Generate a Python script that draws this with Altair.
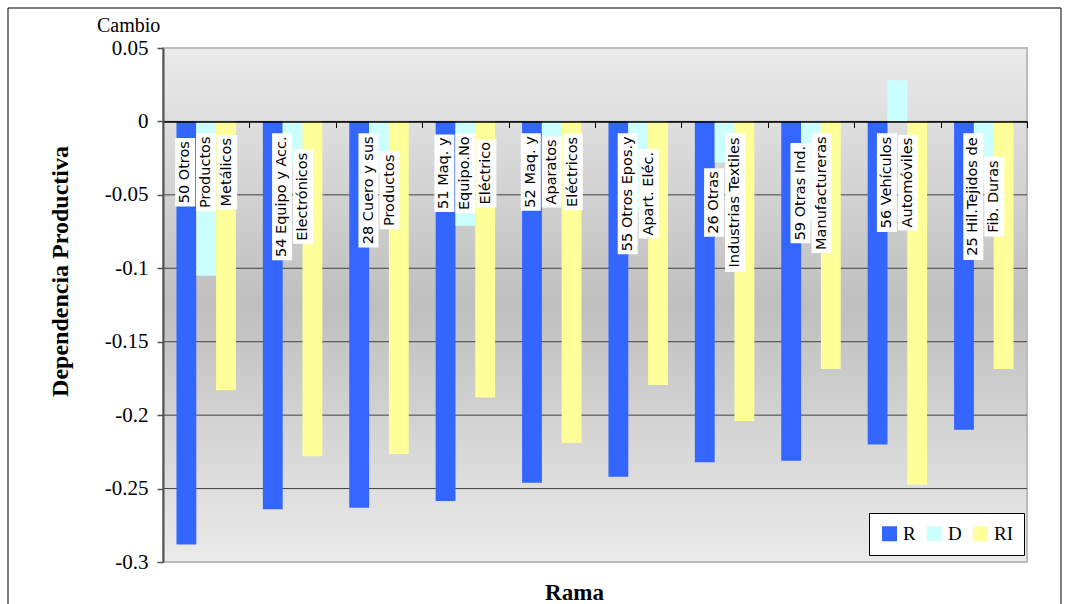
import unicodedata

import altair as alt
import pandas as pd

# ---- datos -------------------------------------------------------------
codigos = ["50", "54", "28", "51", "52", "55", "26", "59", "56", "25"]
etiquetas = [
    ["50 Otros", "Productos", "Metálicos"],
    ["54 Equipo y Acc.", "Electrónicos"],
    ["28 Cuero y sus", "Productos"],
    ["51 Maq. y", "Equipo.No", "Eléctrico"],
    ["52 Maq. y", "Aparatos", "Eléctricos"],
    ["55 Otros Epos.y", "Apart. Eléc."],
    ["26 Otras", "Industrias Textiles"],
    ["59 Otras Ind.", "Manufactureras"],
    ["56 Vehículos", "Automóviles"],
    ["25 Hil.Tejidos de", "Fib. Duras"],
]
series = ["R", "D", "RI"]
valores_R = [-0.288, -0.264, -0.263, -0.2585, -0.246, -0.242, -0.232, -0.231, -0.220, -0.210]
valores_D = [-0.105, -0.030, -0.035, -0.071, -0.030, -0.062, -0.028, -0.069, 0.028, -0.043]
valores_RI = [-0.183, -0.228, -0.2265, -0.188, -0.219, -0.1795, -0.204, -0.1686, -0.2474, -0.1686]
colores = ["#3366ff", "#ccffff", "#ffff99"]
marcas_y = [0.05, 0, -0.05, -0.1, -0.15, -0.2, -0.25, -0.3]

# ---- geometría ---------------------------------------------------------
ANCHO, ALTO = 864, 514
Y_MIN, Y_MAX = -0.3, 0.05
PX_POR_UNIDAD = ALTO / (Y_MAX - Y_MIN)
PASO = ANCHO / len(codigos)

SERIF = "Liberation Serif"
FUENTE_ETIQ = "DejaVu Sans"
TAM_ETIQ = 14.5
INTERLINEA = 21
BORDE_ETIQ = -0.008      # extremo superior de la caja más larga

# anchos de avance aproximados de DejaVu Sans (fracción del em)
ANCHOS = {
    " ": 0.318, ".": 0.318, "A": 0.684, "C": 0.698, "D": 0.770, "E": 0.632,
    "F": 0.575, "H": 0.752, "I": 0.295, "M": 0.863, "N": 0.748, "O": 0.787,
    "P": 0.603, "T": 0.611, "V": 0.684, "a": 0.613, "b": 0.635, "c": 0.550,
    "d": 0.635, "e": 0.615, "f": 0.352, "g": 0.635, "h": 0.634, "i": 0.278,
    "j": 0.278, "l": 0.278, "m": 0.974, "n": 0.634, "o": 0.612, "p": 0.635,
    "q": 0.635, "r": 0.411, "s": 0.521, "t": 0.392, "u": 0.634, "v": 0.592,
    "x": 0.592, "y": 0.592,
}


def ancho_texto(texto):
    total = 0.0
    for c in texto:
        base = unicodedata.normalize("NFD", c)[0]
        total += 0.636 if base.isdigit() else ANCHOS.get(base, 0.6)
    return total * TAM_ETIQ


# ---- tablas ------------------------------------------------------------
filas = []
for cod, r, d, ri in zip(codigos, valores_R, valores_D, valores_RI):
    for s, v in zip(series, (r, d, ri)):
        filas.append({"rama": cod, "serie": s, "valor": v})
barras_df = pd.DataFrame(filas)

filas_etiq = []
for i, lineas in enumerate(etiquetas):
    largos = [ancho_texto(t) for t in lineas]
    centro_y = BORDE_ETIQ - (max(largos) / 2 + 3) / PX_POR_UNIDAD
    n = len(lineas)
    for k, (t, largo) in enumerate(zip(lineas, largos)):
        xc = i + 0.5 + (k - (n - 1) / 2) * INTERLINEA / PASO
        media = (largo / 2 + 3) / PX_POR_UNIDAD
        filas_etiq.append({
            "texto": t, "xc": xc,
            "x1": xc - 10 / PASO, "x2": xc + 10 / PASO,
            "yc": centro_y, "y1": centro_y + media, "y2": centro_y - media,
        })
etiq_df = pd.DataFrame(filas_etiq)
rejilla_df = pd.DataFrame({"v": marcas_y[1:-1]})
unidad = pd.DataFrame({"a": [0]})

# ---- escalas y ejes ----------------------------------------------------
escala_y = alt.Scale(domain=[Y_MIN, Y_MAX], nice=False, zero=False)
escala_xq = alt.Scale(domain=[0, len(codigos)], nice=False, zero=False)

eje_y = alt.Axis(
    values=marcas_y,
    labelExpr="replace(format(datum.value, '~g'), '\u2212', '-')",
    labelFont=SERIF, labelFontSize=21, labelColor="black", labelPadding=9,
    tickSize=6, tickColor="#505050", tickWidth=1.5,
    domainColor="#505050", domainWidth=2, grid=False, zindex=1,
    title="Dependencia Productiva", titleFont=SERIF, titleFontSize=24,
    titleFontWeight="bold", titleColor="black", titleAngle=270,
    titleX=-103, titleY=223, titleAlign="center", titleBaseline="middle",
)

# el eje de categorías se dibuja sobre la línea del cero
desplaz_cero = -(0 - Y_MIN) * PX_POR_UNIDAD
pos_eje_x = ALTO + desplaz_cero
eje_x = alt.Axis(
    orient="bottom", offset=desplaz_cero, labels=False,
    tickBand="extent", tickSize=6, tickColor="black", tickWidth=1,
    domainColor="black", domainWidth=1.5, grid=False, zindex=1,
    title="Rama", titleFont=SERIF, titleFontSize=23, titleFontWeight="bold",
    titleColor="black", titleX=411, titleY=(592 - 48) - pos_eje_x,
    titleAlign="center", titleBaseline="middle",
)

# ---- capas -------------------------------------------------------------
fondo = alt.Chart(unidad).mark_rect(
    fill=alt.Gradient(
        gradient="linear", x1=0, x2=0, y1=0, y2=1,
        stops=[
            alt.GradientStop(offset=0, color="#ebebeb"),
            alt.GradientStop(offset=0.5, color="#bfbfbf"),
            alt.GradientStop(offset=1, color="#ebebeb"),
        ],
    ),
    stroke="#bdbdbd", strokeWidth=2,
).encode(x=alt.value(0), x2=alt.value(ANCHO), y=alt.value(0), y2=alt.value(ALTO))

rejilla = alt.Chart(rejilla_df).mark_rule(color="#404040", strokeWidth=1).encode(
    y=alt.Y("v:Q", scale=escala_y, axis=eje_y)
)

barras = alt.Chart(barras_df).mark_bar().encode(
    x=alt.X("rama:N", sort=codigos, scale=alt.Scale(paddingInner=0, paddingOuter=0), axis=eje_x),
    xOffset=alt.XOffset("serie:N", sort=series, scale=alt.Scale(paddingInner=0, paddingOuter=0.68)),
    y=alt.Y("valor:Q", scale=escala_y, axis=eje_y),
    color=alt.Color(
        "serie:N",
        scale=alt.Scale(domain=series, range=colores),
        legend=alt.Legend(
            title=None, orient="none", legendX=706, legendY=465,
            direction="horizontal", fillColor="white", strokeColor="black",
            padding=11, symbolType="square", symbolSize=225, symbolStrokeWidth=0,
            symbolOpacity=1, labelFont=SERIF, labelFontSize=19, labelColor="black",
            labelOffset=4, columnPadding=9,
        ),
    ),
)

cajas = alt.Chart(etiq_df).mark_rect(fill="white").encode(
    x=alt.X("x1:Q", scale=escala_xq, axis=None),
    x2="x2:Q",
    y=alt.Y("y1:Q", scale=escala_y, axis=eje_y),
    y2="y2:Q",
)

textos = alt.Chart(etiq_df).mark_text(
    angle=270, align="center", baseline="middle",
    font=FUENTE_ETIQ, fontSize=TAM_ETIQ, color="black",
).encode(
    x=alt.X("xc:Q", scale=escala_xq, axis=None),
    y=alt.Y("yc:Q", scale=escala_y, axis=eje_y),
    text="texto:N",
)

cambio = alt.Chart(unidad).mark_text(
    text="Cambio", align="left", baseline="alphabetic",
    font=SERIF, fontSize=20, color="black",
).encode(x=alt.value(-66), y=alt.value(-16))

marco = alt.Chart(unidad).mark_rect(filled=False, color="black", strokeWidth=1).encode(
    x=alt.value(-155), x2=alt.value(898), y=alt.value(-40), y2=alt.value(ALTO + 60)
)

chart = (
    alt.layer(fondo, rejilla, barras, cajas, textos, cambio, marco)
    .resolve_scale(x="independent")
    .properties(
        width=ANCHO, height=ALTO,
        autosize=alt.AutoSizeParams(type="none"),
        padding={"left": 163, "top": 48, "right": 40, "bottom": 42},
        background="white",
    )
    .configure_view(strokeWidth=0)
)

chart.save("out.html", embed_options={"renderer": "svg", "actions": False})
